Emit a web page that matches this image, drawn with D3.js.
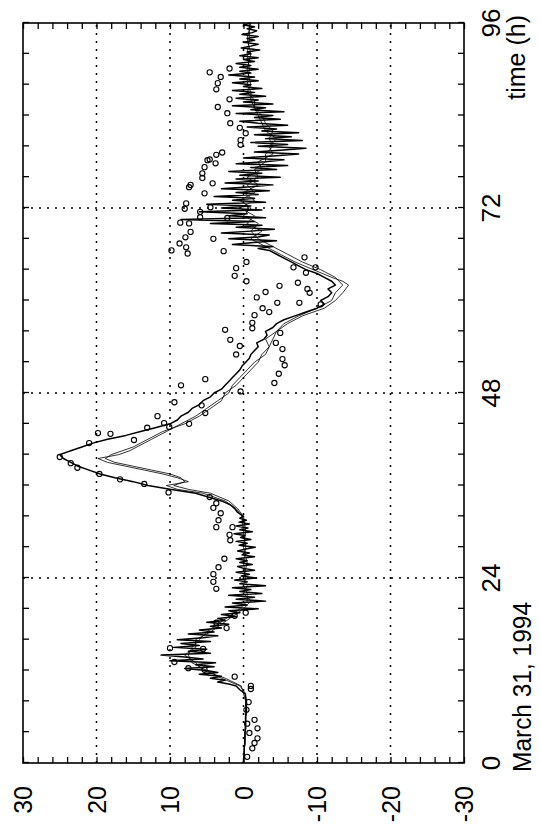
<!DOCTYPE html>
<html>
<head>
<meta charset="utf-8">
<script src="https://cdn.jsdelivr.net/npm/d3@7"></script>
<style>
  html, body { margin: 0; background: #fff; }
  text { font-family: "Liberation Sans", Arial, sans-serif; }
</style>
</head>
<body>
<svg id="chart" width="540" height="829"></svg>
<script>
// main model series, [time (h), value]; denser where the record is noisy
const modelMain = [
  [0, 0], [0.5, 0], [1, -0.1], [1.5, -0.1], [2, -0.1], [2.5, -0.2], [3, -0.2], [3.5, -0.2], [4, -0.2], [4.5, -0.3],
  [5, -0.3], [5.5, -0.3], [6, -0.3], [6.5, -0.4], [7, -0.4], [7.5, -0.4], [8, -0.4], [8.5, -0.3], [9, -0.2], [9.5, 0.5],
  [10, 1.0], [10.25, 2.0], [10.5, 3.5], [10.75, 2.5], [11, 4.5], [11.25, 3.0], [11.5, 6.0], [11.75, 3.5],
  [12, 5.0], [12.25, 8.0], [12.5, 4.0], [12.75, 6.5], [13, 3.8], [13.25, 10.0], [13.5, 5.5], [13.75, 8.0],
  [14, 11.2], [14.25, 4.5], [14.5, 7.5], [14.75, 5.0], [15, 9.5], [15.25, 6.0], [15.5, 8.5], [15.75, 4.5],
  [16, 9.0], [16.25, 5.5], [16.5, 3.5], [16.75, 7.5], [17, 4.0], [17.25, 6.0], [17.5, 3.0], [17.75, 4.5],
  [18, 2.0], [18.25, 5.0], [18.5, 2.5], [18.75, 3.5], [19, 1.0], [19.25, 3.0], [19.5, 0.5], [19.75, 2.0],
  [20, -2.0], [20.25, 2.5], [20.5, -0.5], [20.75, 1.5], [21, -3.0], [21.25, 1.0], [21.5, -1.5], [21.75, 2.0],
  [22, -2.5], [22.25, 0.5], [22.5, -1.0], [22.75, 1.5], [23, -3.0], [23.25, 0.5], [23.5, -0.5], [23.75, 1.2],
  [24, -1.8], [24.25, 0.3], [24.5, -0.8], [24.75, 1.0], [25, -1.5], [25.25, 0.0], [25.5, 0.8], [25.75, -1.2],
  [26, 0.5], [26.25, -0.5], [26.5, 1.0], [26.75, -1.5], [27, 0.2], [27.25, -0.8], [27.5, 0.8], [27.75, -0.3],
  [28, -1.6], [28.25, 0.6], [28.5, -0.5], [28.75, 1.0], [29, -1.0], [29.25, 0.4], [29.5, -0.2], [29.75, 1.3],
  [30, -1.2], [30.25, 0.5], [30.5, -0.6], [30.75, 1.0], [31, -0.8], [31.25, 0.6], [31.5, -0.4], [31.75, 0.5],
  [32, 0.0], [32.5, 0.8], [33, 1.2], [33.5, 1.8], [34, 3.0], [34.5, 4.8], [35, 6.5], [35.5, 10.0], [36, 13.0],
  [36.5, 15.0], [37, 17.5], [37.5, 19.5], [38, 21.0], [38.5, 22.5], [39, 23.5], [39.5, 24.5], [40, 25.0],
  [40.5, 23.5], [41, 22.0], [41.5, 20.5], [42, 18.5], [42.5, 16.0], [43, 14.0], [43.5, 12.0], [44, 10.0],
  [44.5, 9.0], [45, 8.5], [45.5, 7.5], [46, 7.0], [46.5, 6.0], [47, 5.5], [47.5, 4.5], [48, 4.0], [48.5, 3.0],
  [49, 2.5], [49.5, 2.0], [50, 1.5], [50.5, 1.0], [51, 0.5], [51.5, 0.2], [52, -0.3], [52.5, -0.8], [53, -1.0],
  [53.5, -1.5], [54, -2.0], [54.5, -1.8], [55, -2.8], [55.5, -3.2], [56, -3.0], [56.5, -4.0], [57, -4.5],
  [57.5, -5.5], [58, -7.0], [58.5, -8.5], [59, -10.0], [59.5, -11.0], [60, -10.5], [60.5, -11.5], [61, -12.0],
  [61.5, -11.5], [62, -12.5], [62.5, -12.0], [63, -11.0], [63.5, -10.0], [64, -8.5], [64.5, -7.5], [65, -6.5],
  [65.5, -5.5], [66, -4.5], [66.5, -3.5], [66.75, -2.0], [67, -4.0], [67.25, 1.5], [67.5, -1.0], [67.75, -4.5],
  [68, 2.0], [68.25, -2.0], [68.5, -3.5], [68.75, 3.0], [69, -1.0], [69.25, -4.2], [69.5, 1.0], [69.75, -2.5],
  [70, 4.5], [70.25, -1.5], [70.5, 8.5], [70.75, -3.0], [71, 2.0], [71.25, -0.5], [71.5, 6.0], [71.75, -2.5],
  [72, 3.0], [72.25, -1.0], [72.5, 5.0], [72.75, -3.0], [73, 1.5], [73.25, -1.5], [73.5, 4.0], [73.75, -2.0],
  [74, 1.0], [74.25, -3.5], [74.5, 3.0], [74.75, -1.0], [75, -4.0], [75.25, 2.5], [75.5, -2.0], [75.75, 1.0],
  [76, -5.0], [76.25, 0.5], [76.5, -2.5], [76.75, 2.0], [77, -4.5], [77.25, -1.0], [77.5, -6.0], [77.75, 1.0],
  [78, -3.0], [78.25, -5.5], [78.5, 0.0], [78.75, -4.0], [79, -7.5], [79.25, -1.5], [79.5, -5.0], [79.75, -8.5],
  [80, -2.0], [80.25, -6.0], [80.5, -1.0], [80.75, -8.0], [81, -3.0], [81.25, -6.5], [81.5, -1.5], [81.75, -7.5],
  [82, -2.5], [82.25, -4.5], [82.5, -0.5], [82.75, -6.0], [83, -2.0], [83.25, 0.5], [83.5, -5.0], [83.75, -1.5],
  [84, -4.0], [84.25, 1.0], [84.5, -5.5], [84.75, -1.0], [85, -3.0], [85.25, 1.5], [85.5, -4.0], [85.75, 0.0],
  [86, -2.0], [86.25, 1.0], [86.5, -3.0], [86.75, 0.5], [87, -1.5], [87.25, 1.5], [87.5, -2.5], [87.75, 0.0],
  [88, -1.0], [88.25, 1.5], [88.5, -2.0], [88.75, 0.5], [89, -1.5], [89.25, 2.0], [89.5, -1.0], [89.75, 0.5],
  [90, -2.0], [90.25, 0.5], [90.5, -1.0], [90.75, 1.0], [91, -1.5], [91.25, 0.0], [91.5, -2.0], [91.75, 0.5],
  [92, -1.0], [92.25, -0.5], [92.5, -2.2], [92.75, 0.3], [93, -1.0], [93.25, -2.0], [93.5, 0.0], [93.75, -1.5],
  [94, -0.5], [94.25, -2.0], [94.5, 0.2], [94.75, -1.2], [95, -1.8], [95.25, -0.5], [95.5, -1.5], [95.75, 0.0], [96, -1.0]
];

// two thin model runs, [time (h), value]
const modelB = [
  [0, 0], [3, -0.2], [6, -0.3], [9, -0.3], [10, 0.5], [11, 3], [12, 5], [13, 7], [14, 7.5], [15, 7], [16, 6],
  [17, 5], [18, 3.5], [19, 2], [20, 0.5], [21, -0.5], [22, -0.5], [23, 0], [24, -0.3], [26, 0], [28, -0.3],
  [30, 0], [32, 0.2], [33, 1], [34, 2.5], [35, 5.5], [35.5, 9], [36, 10.5], [36.5, 7.5], [37, 9], [37.5, 11],
  [38, 13.5], [38.5, 16], [39, 18.5], [39.5, 19.8], [40, 17], [40.5, 15.5], [41, 14.5], [41.5, 13.5], [42, 12.5],
  [43, 10.5], [44, 8.5], [45, 6.5], [46, 5], [47, 3.5], [48, 2], [49, 1.5], [50, 0.5], [51, -0.5], [52, -1.5],
  [53, -3], [54, -3.5], [55, -4], [56, -4.5], [57, -6], [58, -8], [59, -11], [60, -12.5], [61, -13.5], [62, -14.3],
  [62.5, -13.5], [63, -12], [64, -9.5], [65, -7], [66, -5], [67, -3], [68, -1], [69, -2.5], [70, -0.5], [71, -1.5],
  [72, 0.5], [73, -1.5], [74, 0], [75, -2], [76, -0.5], [77, -2.5], [78, -2], [79, -4], [80, -3.5], [81, -4.5],
  [82, -3], [83, -2.5], [84, -2], [85, -1.5], [86, -1], [87, -1], [88, -0.5], [90, -0.8], [92, -0.5], [94, -0.8], [96, -0.8]
];
const modelC = [
  [0, 0], [4, -0.2], [8, -0.3], [10, 0.3], [11, 2.5], [12, 5.5], [13, 6.5], [14, 8], [15, 6.5], [16, 6.5], [17, 4.5],
  [18, 3], [19, 1.5], [20, 0], [21, -1], [22, 0], [23, -0.5], [24, 0], [26, -0.5], [28, 0], [30, -0.3], [32, 0],
  [33, 0.8], [34, 2], [35, 4.5], [35.5, 7.5], [36, 9.5], [36.5, 8], [37, 8.5], [37.5, 10], [38, 12.5], [38.5, 15],
  [39, 17.5], [39.5, 18.8], [40, 18], [40.5, 16.5], [41, 15], [42, 13], [43, 11], [44, 8], [45, 6], [46, 4.5],
  [47, 3], [48, 2.5], [49, 1], [50, 0], [51, -1], [52, -2], [53, -2.5], [54, -3.5], [55, -3], [56, -4.5], [57, -5.5],
  [58, -7.5], [59, -10], [60, -12], [61, -12.5], [62, -13.5], [63, -12.5], [64, -10.5], [65, -8], [66, -6], [67, -4],
  [68, -2], [69, -1], [70, -2], [71, 0], [72, -1], [73, 0.5], [74, -1.5], [75, -0.5], [76, -2], [77, -1.5], [78, -3],
  [79, -3], [80, -4], [81, -3.5], [82, -4], [83, -3], [84, -2.5], [85, -1.5], [86, -1.5], [87, -0.5], [88, -1],
  [90, -0.5], [92, -1], [94, -0.5], [96, -1]
];

// observations (circles), [time (h), value]
const observed = [
  [0.8, -0.5], [1.9, -1.2], [2.6, -1.5], [3.2, -1.9], [3.9, -0.8], [4.5, -1.9], [5.1, -0.5], [5.6, -1.5], [6.9, -0.4],
  [7.9, -0.7], [9.6, -1.0], [10.0, -1.0], [11.2, 1.2], [12.1, 5.3], [12.3, 7.5], [13.1, 9.4], [14.9, 10.0], [14.8, 5.5],
  [17.5, 2.3], [18.2, 3.7], [19.1, 1.2], [19.5, -0.3],
  [22.6, 3.7], [23.5, 4.1], [24.5, 4.1], [25.4, 3.4], [26.5, 2.6], [28.9, 1.8], [29.6, 1.9], [30.6, 1.5], [30.6, 3.7],
  [31.5, 3.4], [32.4, 3.1], [33.1, 4.1], [33.7, 3.7], [34.5, 4.6], [35.1, 10.2], [36.2, 13.5], [36.8, 16.8], [37.5, 19.6],
  [38.3, 22.6], [38.9, 23.5], [39.7, 25.0],
  [41.5, 21.0], [42.8, 19.8], [42.7, 18.1], [41.9, 14.9], [43.5, 13.1], [45.0, 11.7], [44.1, 10.8], [43.6, 10.1],
  [44.0, 7.4], [46.8, 9.4], [49.0, 8.5], [46.4, 5.7], [45.4, 5.2], [49.8, 5.2], [48.2, 0.4],
  [49.3, -4.2], [50.5, -4.8], [51.6, -5.6], [52.4, -5.3], [53.0, 1.0], [53.7, -5.3], [54.1, 0.5], [54.5, -4.4],
  [54.9, 1.8], [55.8, -5.0], [56.2, 2.5], [56.4, -1.2], [57.1, -1.2], [58.1, -1.5], [58.5, -3.5], [59.0, -2.6],
  [59.5, -10.5], [59.7, -4.6], [59.7, -7.6], [60.4, -1.8], [61.0, -9.0], [61.1, -3.0], [61.5, -8.7], [61.9, -4.9],
  [62.3, -7.4], [62.5, -0.4], [63.2, 1.2], [63.6, -8.5], [64.2, 1.0], [64.3, -9.8], [64.3, -6.8], [65.0, -0.4], [65.6, -8.3],
  [66.1, 7.6], [66.4, 2.7], [66.5, 9.8], [66.9, 7.8], [67.4, 8.7], [68.0, 4.1], [68.2, 7.9], [68.9, 7.2], [70.0, 7.4],
  [70.1, 8.6], [70.7, 2.2], [70.8, 5.9], [71.5, 5.9], [71.9, 8.0], [72.1, 4.5], [72.6, 7.8], [73.9, 5.3], [74.7, 7.4],
  [75.0, 7.2], [75.2, 4.2], [75.9, 5.6], [76.5, 5.6], [77.3, 5.3], [77.8, 3.8], [78.2, 4.9], [78.3, 4.6], [78.9, 3.7],
  [79.2, 2.9], [80.2, 0.4], [80.8, 0.4], [81.7, -0.3], [82.4, 0.5], [83.0, 1.8], [84.3, 2.2], [85.1, 3.5], [86.1, 1.9],
  [87.4, 3.7], [88.2, 3.5], [89.0, 3.1], [89.6, 4.6], [90.1, 1.9]
];

const valueLabels = [30, 20, 10, 0, -10, -20, -30];
const valueGrid = [20, 10, 0, -10, -20];
const timeLabels = [0, 24, 48, 72, 96];
const timeGrid = [24, 48, 72];
const timeTitle = "time (h)";
const dateTitle = "March 31, 1994";

const svg = d3.select("#chart");
const plotW = 740;   // time direction (drawn bottom -> top)
const plotH = 441;   // value direction (drawn left -> right)
const fontSize = 25;

// the figure is printed sideways: draw it landscape, then turn it
const g = svg.append("g").attr("transform", "translate(23,763) rotate(-90)");

const x = d3.scaleLinear().domain([0, 96]).range([0, plotW]);
const y = d3.scaleLinear().domain([30, -30]).range([0, plotH]);

// dotted grid
const grid = g.append("g")
  .attr("stroke", "#000")
  .attr("stroke-width", 1.5)
  .attr("stroke-dasharray", "2,6");
grid.selectAll(".gv")
  .data(valueGrid)
  .join("line")
  .attr("class", "gv")
  .attr("x1", 0).attr("x2", plotW)
  .attr("y1", (d) => y(d)).attr("y2", (d) => y(d));
grid.selectAll(".gt")
  .data(timeGrid)
  .join("line")
  .attr("class", "gt")
  .attr("y1", 0).attr("y2", plotH)
  .attr("x1", (d) => x(d)).attr("x2", (d) => x(d));

const line = d3.line()
  .x((d) => x(d[0]))
  .y((d) => y(d[1]));

// thin model lines
[modelB, modelC].forEach((series) => {
  g.append("path")
    .datum(series)
    .attr("fill", "none")
    .attr("stroke", "#000")
    .attr("stroke-width", 0.8)
    .attr("stroke-linejoin", "round")
    .attr("d", line);
});

// main line
g.append("path")
  .datum(modelMain)
  .attr("fill", "none")
  .attr("stroke", "#000")
  .attr("stroke-width", 1.5)
  .attr("stroke-linejoin", "round")
  .attr("d", line);

// observations
g.append("g")
  .attr("fill", "none")
  .attr("stroke", "#000")
  .attr("stroke-width", 1.1)
  .selectAll("circle")
  .data(observed)
  .join("circle")
  .attr("cx", (d) => x(d[0]))
  .attr("cy", (d) => y(d[1]))
  .attr("r", 2.6);

// inward ticks on all four sides
const tickTimes = d3.range(0, 97, 4);
const tickValues = d3.range(-30, 31, 2);

g.append("g")
  .attr("transform", `translate(0,${plotH})`)
  .call(d3.axisBottom(x).tickValues(tickTimes).tickSize(-6).tickFormat(""));
g.append("g")
  .call(d3.axisTop(x).tickValues(tickTimes).tickSize(-6).tickFormat(""));
g.append("g")
  .call(d3.axisLeft(y).tickValues(tickValues).tickSize(-6).tickFormat(""));
g.append("g")
  .attr("transform", `translate(${plotW},0)`)
  .call(d3.axisRight(y).tickValues(tickValues).tickSize(-6).tickFormat(""));

g.selectAll(".domain").remove();
g.selectAll(".tick line").attr("stroke", "#000").attr("stroke-width", 1.3);

// frame
g.append("rect")
  .attr("x", 0).attr("y", 0)
  .attr("width", plotW).attr("height", plotH)
  .attr("fill", "none")
  .attr("stroke", "#000")
  .attr("stroke-width", 1.6);

// labels
g.append("g")
  .selectAll("text")
  .data(valueLabels)
  .join("text")
  .attr("x", -23)
  .attr("y", (d) => y(d))
  .attr("dy", "0.36em")
  .attr("text-anchor", "end")
  .attr("font-size", fontSize)
  .text((d) => d);

g.append("g")
  .selectAll("text")
  .data(timeLabels)
  .join("text")
  .attr("x", (d) => x(d))
  .attr("y", plotH + 36)
  .attr("text-anchor", "middle")
  .attr("font-size", 26)
  .text((d) => d);

g.append("text")
  .attr("x", -9)
  .attr("y", plotH + 67)
  .attr("font-size", fontSize)
  .attr("textLength", 170)
  .attr("lengthAdjust", "spacingAndGlyphs")
  .text(dateTitle);

g.append("text")
  .attr("x", plotW + 8)
  .attr("y", plotH + 61)
  .attr("text-anchor", "end")
  .attr("font-size", fontSize)
  .text(timeTitle);
</script>
</body>
</html>
